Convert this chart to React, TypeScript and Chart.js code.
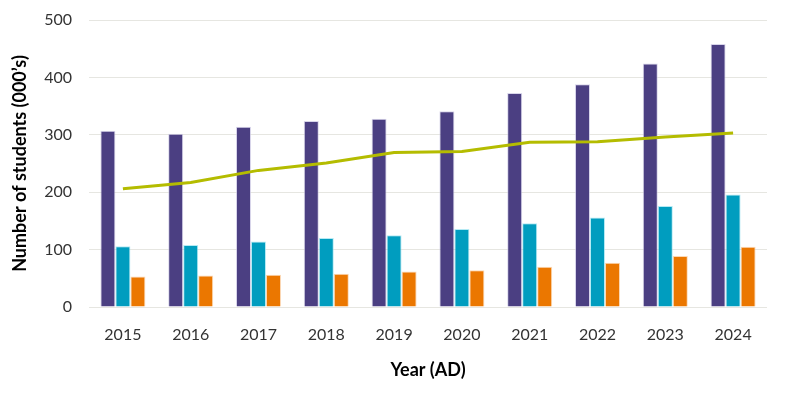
import React, { useEffect, useRef } from "react";
import { Chart, registerables } from "chart.js";

Chart.register(...registerables);

const years = ["2015", "2016", "2017", "2018", "2019", "2020", "2021", "2022", "2023", "2024"];
const seriesPurple = [307, 302, 314, 324, 328, 341, 373, 388, 424, 458];
const seriesTeal = [106, 108, 114, 120, 125, 136, 146, 156, 176, 196];
const seriesOrange = [53, 55, 56, 58, 62, 64, 70, 77, 89, 105];
const seriesLine = [206, 217, 238, 251, 269, 271, 287, 288, 296, 303];
const yTicks = [0, 100, 200, 300, 400, 500];

export default function App() {
  const ref = useRef<HTMLCanvasElement | null>(null);
  useEffect(() => {
    document.body.style.margin = "0";
    const ctx = ref.current!;
    const font = "Lato, 'Open Sans', sans-serif";
    const chart = new Chart(ctx, {
      type: "bar",
      data: {
        labels: years,
        datasets: [
          {
            type: "line",
            label: "Trend",
            data: seriesLine,
            borderColor: "#B4BC00",
            borderWidth: 3,
            pointRadius: 0,
            tension: 0,
            order: 0,
          } as any,
          {
            label: "A",
            data: seriesPurple,
            backgroundColor: "#4B3F82",
            borderColor: "rgba(200,195,225,0.7)",
            borderWidth: 1,
            order: 1,
          },
          {
            label: "B",
            data: seriesTeal,
            backgroundColor: "#009DBF",
            borderColor: "rgba(150,225,240,0.7)",
            borderWidth: 1,
            order: 1,
          },
          {
            label: "C",
            data: seriesOrange,
            backgroundColor: "#EB7700",
            borderColor: "rgba(250,200,150,0.7)",
            borderWidth: 1,
            order: 1,
          },
        ],
      },
      options: {
        animation: false,
        responsive: false,
        maintainAspectRatio: false,
        layout: { padding: { top: 20, right: 25, bottom: 0, left: 0 } },
        datasets: {
          bar: { categoryPercentage: 0.664, barPercentage: 1 },
        },
        plugins: {
          legend: { display: false },
          tooltip: { enabled: false },
        },
        scales: {
          x: {
            grid: { display: false, drawTicks: false },
            border: { display: false },
            ticks: {
              color: "#333333",
              font: { family: font, size: 16 },
              padding: 18,
            },
            title: {
              display: true,
              text: "Year (AD)",
              color: "#000000",
              font: { family: font, size: 18, weight: "bold" },
              padding: { top: 0, bottom: 13 },
            },
            afterFit: (s: any) => {
              s.height = 87;
            },
          },
          y: {
            min: 0,
            max: 500,
            afterBuildTicks: (s: any) => {
              s.ticks = yTicks.map((v) => ({ value: v }));
            },
            grid: {
              color: "#E6E6E1",
              lineWidth: 1,
              drawTicks: true,
              tickLength: 17,
              tickColor: "rgba(0,0,0,0)",
            },
            border: { display: false },
            ticks: {
              color: "#333333",
              font: { family: font, size: 16 },
              padding: 0,
            },
            title: {
              display: true,
              text: "Number of students (000’s)",
              color: "#000000",
              font: { family: font, size: 18, weight: "bold" },
              padding: { top: 9, bottom: 0 },
            },
            afterFit: (s: any) => {
              s.width = 89;
            },
          },
        },
      },
    });
    return () => chart.destroy();
  }, []);
  return (
    <div style={{ width: 792, height: 394, background: "#fff" }}>
      <canvas ref={ref} width={792} height={394} style={{ width: 792, height: 394, display: "block" }} />
    </div>
  );
}
